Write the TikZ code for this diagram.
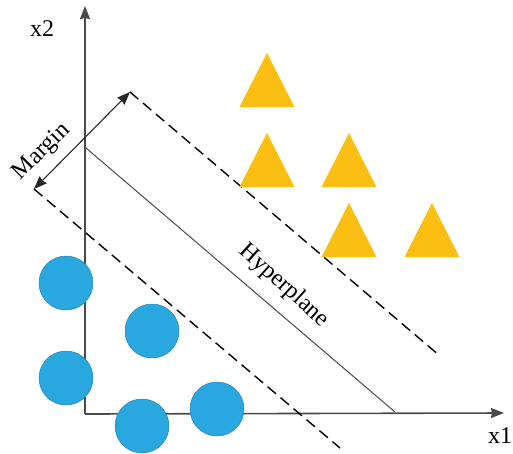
\documentclass[tikz,border=0pt]{standalone}
\usepackage{fontspec}
\setmainfont{Liberation Serif}
\usetikzlibrary{arrows.meta}
\definecolor{dotblue}{HTML}{29A8E0}
\definecolor{dotedge}{HTML}{2A7FB0}
\definecolor{triyellow}{HTML}{FBBF14}
\definecolor{axisgray}{HTML}{4A4A4A}
\tikzset{
  axisline/.style={draw=axisgray, line width=1.6pt, -{Stealth[length=13pt,width=10pt,inset=1pt]}},
  planeline/.style={draw=axisgray, line width=1pt},
  marginline/.style={draw=black, line width=1.4pt, dash pattern=on 11pt off 6pt},
  marginarrow/.style={draw=black!85, line width=1.1pt, {Stealth[length=13pt,width=10pt,inset=1pt]}-{Stealth[length=13pt,width=10pt,inset=1pt]}},
  dot/.style={circle, fill=dotblue, draw=dotedge, line width=0.5pt, minimum size=54pt, inner sep=0pt},
  tri/.style={fill=triyellow},
  lbl/.style={font=\fontsize{24}{28}\selectfont, inner sep=0pt, text=black}
}
\begin{document}
\begin{tikzpicture}[x=1pt,y=-1pt]
\useasboundingbox (0,0) rectangle (513,453);
% axes
\coordinate (O) at (85,414);
\coordinate (ytop) at (85,6);
\coordinate (xend) at (504,413);
\draw[axisline] (O) -- (ytop);
\draw[axisline] (O) -- (xend);
\node[lbl] (x2) at (42,29) {x2};
\node[lbl] (x1) at (500,436) {x1};
% hyperplane and margins
\coordinate (h1) at (86,148);
\coordinate (h2) at (395,412);
\draw[planeline] (h1) -- (h2);
\coordinate (u1) at (130,92);
\coordinate (u2) at (440,356);
\draw[marginline] (u1) -- (u2);
\coordinate (l1) at (34,189);
\coordinate (l2) at (340,448);
\draw[marginline] (l1) -- (l2);
\draw[marginarrow] (l1) -- (u1);
\node[lbl, rotate=45] (margin) at (42,152) {Margin};
\node[lbl, rotate=-42] (hyper) at (284,286) {Hyperplane};
% triangles
\foreach \cx/\cy in {267/53, 267/133, 349/133, 349/203, 432/203} {
  \fill[tri] (\cx,\cy) -- (\cx+27.5,\cy+54) -- (\cx-27.5,\cy+54) -- cycle;
}
% circles
\node[dot] (c1) at (66,283) {};
\node[dot] (c2) at (152,331) {};
\node[dot] (c3) at (66,378) {};
\node[dot] (c4) at (142,426) {};
\node[dot] (c5) at (217,409) {};
\end{tikzpicture}
\end{document}
